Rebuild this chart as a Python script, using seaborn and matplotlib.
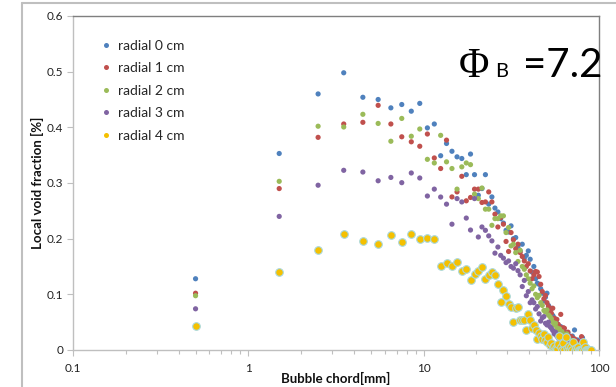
import numpy as np
import pandas as pd
import matplotlib
matplotlib.use("Agg")
import matplotlib.pyplot as plt
from matplotlib.lines import Line2D
from matplotlib.ticker import FixedLocator, NullFormatter
import seaborn as sns

# Bubble chord bins (mm): centres of 1 mm wide classes
chord_mm = [i + 0.5 for i in range(90)]

radial_0cm = [
    .128, .353, .460, .498, .454, .450, .435, .441, .429, .443,
    .399, .406, .349, .371, .357, .347, .344, .315, .352, .315,
    .278, .290, .315, .262, .275, .255, .248, .236, .228, .215,
    .212, .223, .200, .202, .185, .178, .190, .165, .170, .178,
    .163, .140, .150, .128, .120, .118, .110, .102, .088, .095,
    .102, .080, .072, .075, .062, .058, .055, .048, .045, .040,
    .042, .035, .030, .032, .028, .025, .030, .022, .020, .018,
    .025, .020, .036, .015, .012, .018, .010, .014, .008, .012,
    .022, .010, .006, .008, .004, .005, .002, .003, .000, .000,
]
radial_1cm = [
    .102, .290, .382, .406, .409, .4395, .406, .383, .374, .366,
    .388, .345, .326, .377, .275, .284, .312, .268, .274, .289,
    .289, .265, .266, .284, .266, .244, .221, .238, .226, .195,
    .177, .211, .198, .182, .190, .175, .168, .160, .150, .155,
    .142, .128, .135, .141, .140, .132, .118, .105, .092, .098,
    .085, .078, .070, .066, .075, .057, .050, .055, .046, .042,
    .064, .035, .040, .039, .030, .028, .032, .025, .020, .024,
    .018, .015, .020, .012, .016, .010, .014, .008, .012, .024,
    .010, .006, .008, .004, .003, .002, .000, .000, .000, .000,
]
radial_2cm = [
    .0975, .303, .402, .4006, .4234, .407, .375, .416, .384, .397,
    .3425, .336, .3856, .338, .326, .289, .329, .336, .333, .280,
    .272, .291, .253, .253, .224, .236, .236, .241, .241, .211,
    .220, .187, .190, .175, .159, .179, .150, .145, .135, .128,
    .120, .110, .115, .100, .094, .098, .085, .080, .071, .068,
    .072, .063, .060, .056, .050, .045, .048, .040, .036, .038,
    .030, .033, .028, .025, .022, .029, .018, .020, .015, .017,
    .012, .014, .010, .012, .008, .010, .006, .008, .005, .004,
    .003, .002, .000, .000, .000, .000, .000, .000, .000, .000,
]
radial_3cm = [
    .074, .240, .296, .3228, .3197, .304, .310, .3006, .318, .309,
    .2766, .289, .2748, .262, .226, .272, .266, .237, .2155, .272,
    .203, .221, .215, .205, .196, .174, .185, .170, .165, .157,
    .160, .150, .147, .155, .1425, .135, .114, .125, .0975, .105,
    .085, .090, .085, .0736, .078, .065, .052, .058, .060, .048,
    .045, .050, .042, .039, .035, .029, .032, .025, .022, .018,
    .020, .018, .015, .012, .014, .010, .012, .008, .006, .008,
    .005, .004, .003, .002, .000, .000, .000, .000, .000, .000,
    .000, .000, .000, .000, .000, .000, .000, .000, .000, .000,
]
radial_4cm = [
    .044, .140, .179, .2085, .196, .191, .207, .1935, .2084, .200,
    .2017, .200, .1515, .156, .1515, .1586, .142, .146, .125, .1365,
    .1413, .150, .128, .135, .141, .134, .118, .087, .108, .097,
    .083, .077, .050, .075, .077, .053, .054, .054, .036, .065,
    .053, .039, .045, .036, .019, .031, .025, .020, .028, .018,
    .015, .024, .0095, .012, .006, .008, .004, .002, .010, .026,
    .005, .000, .012, .000, .023, .004, .000, .008, .000, .006,
    .000, .015, .000, .004, .000, .006, .000, .000, .000, .000,
    .000, .015, .000, .005, .000, .000, .000, .000, .000, .000,
]

series_names = ["radial 0 cm", "radial 1 cm", "radial 2 cm", "radial 3 cm", "radial 4 cm"]
series_values = [radial_0cm, radial_1cm, radial_2cm, radial_3cm, radial_4cm]
colors = ["#4F81BD", "#C0504D", "#9BBB59", "#8064A2", "#F5C000"]

x_ticks = [0.1, 1, 10, 100]
x_tick_labels = ["0.1", "1", "10", "100"]
y_ticks = [0, 0.1, 0.2, 0.3, 0.4, 0.5, 0.6]
y_tick_labels = ["0", "0.1", "0.2", "0.3", "0.4", "0.5", "0.6"]

df = pd.concat(
    [pd.DataFrame({"chord": chord_mm, "void": vals, "series": name})
     for name, vals in zip(series_names, series_values)],
    ignore_index=True,
)

sns.set_theme(style="white")
plt.rcParams["font.family"] = ["Lato", "DejaVu Sans"]

W, H = 616, 387
fig = plt.figure(figsize=(W / 100, H / 100), dpi=100)
fig.patch.set_facecolor("white")

# plot area in pixel coordinates
left, right, top, bottom = 73, 599, 16, 350
ax = fig.add_axes([left / W, 1 - bottom / H, (right - left) / W, (bottom - top) / H])

for name, col in zip(series_names, colors):
    sub = df[df["series"] == name]
    if name == "radial 4 cm":
        sns.scatterplot(data=sub, x="chord", y="void", ax=ax, color=col, s=30,
                        edgecolor="#A9D8DC", linewidth=0.8, legend=False, zorder=3)
    else:
        sns.scatterplot(data=sub, x="chord", y="void", ax=ax, color=col, s=14,
                        edgecolor="none", linewidth=0, legend=False, zorder=3)

ax.set_xscale("log")
ax.set_xlim(0.1, 100)
ax.set_ylim(0, 0.6)
ax.set_xticks(x_ticks)
ax.set_xticklabels(x_tick_labels)
ax.xaxis.set_minor_locator(FixedLocator(
    [m * d for d in (0.1, 1, 10) for m in range(2, 10)]))
ax.xaxis.set_minor_formatter(NullFormatter())
ax.set_yticks(y_ticks)
ax.set_yticklabels(y_tick_labels)

ax.spines["bottom"].set_color("#BFBFBF")
ax.spines["left"].set_color("#BFBFBF")
ax.spines["top"].set_color("#7F7F7F")
ax.spines["right"].set_color("#7F7F7F")
for sp in ax.spines.values():
    sp.set_linewidth(1.0)

ax.tick_params(axis="both", which="major", direction="out", length=4, width=0.8,
               color="#BFBFBF", labelsize=8.5, labelcolor="#222222", pad=3)
ax.tick_params(axis="x", which="minor", direction="out", length=3, width=0.8,
               color="#BFBFBF")
ax.tick_params(axis="x", which="major", pad=5)
ax.tick_params(left=True, bottom=True, top=False, right=False)
ax.tick_params(axis="x", which="minor", bottom=True)
ax.set_xlabel("")
ax.set_ylabel("")

# axis titles placed in pixel coordinates
fig.text(336 / W, 1 - 378 / H, "Bubble chord[mm]", fontsize=9.5, fontweight="bold",
         color="#111111", ha="center", va="center")
fig.text(37 / W, 1 - 183 / H, "Local void fraction [%]", fontsize=9.5,
         fontweight="bold", color="#111111", ha="center", va="center", rotation=90)

handles = [Line2D([0], [0], marker="o", linestyle="none", markersize=3.6,
                  markerfacecolor=c, markeredgecolor="none") for c in colors]
ax.legend(handles, series_names, loc="upper left", bbox_to_anchor=(0.045, 0.945),
          frameon=False, fontsize=10, handlelength=0.6, handletextpad=0.5,
          labelspacing=0.75, borderaxespad=0)

# outer chart frame lines
fig.add_artist(Line2D([22 / W, 22 / W], [0, 1 - 3 / H], transform=fig.transFigure,
                      color="#BFBFBF", lw=1.5))
fig.add_artist(Line2D([22 / W, 1], [1 - 3 / H, 1 - 3 / H], transform=fig.transFigure,
                      color="#BFBFBF", lw=1.5))

# annotation: Phi_B = 7.2
base_y = 1 - 77 / H
fig.text(459 / W, base_y, "Φ", family=["Liberation Serif", "DejaVu Serif"],
         fontsize=30, color="black", ha="left", va="baseline")
fig.text(495 / W, base_y, "B", fontsize=14.5, color="black", ha="left", va="baseline",
         family=["Lato", "DejaVu Sans"])
fig.text(523 / W, base_y, "=7.2", fontsize=29, color="black", ha="left", va="baseline",
         family=["Lato", "DejaVu Sans"])

fig.savefig("out.png", dpi=100, facecolor="white")
